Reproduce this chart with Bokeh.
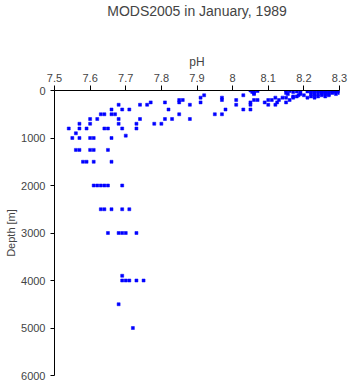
from bokeh.plotting import figure
from bokeh.models import Range1d, FixedTicker, CustomJSTickFormatter, ColumnDataSource, Title
from bokeh.embed import file_html
from bokeh.resources import INLINE

# depth [m] and pH of each observation
depth_m = (
    [0] * 9 + [10] * 6 + [20] * 7 + [30] * 6 + [50] * 8 + [75] * 8 + [100] * 7 + [125] * 5 +
    [150] * 8 + [200] * 10 + [250] * 8 + [300] * 8 + [400] * 7 + [500] * 7 + [600] * 7 +
    [700] * 6 + [800] * 7 + [900] + [950] + [1000] * 5 + [1250] * 5 + [1500] * 4 +
    [2000] * 6 + [2500] * 5 + [3000] * 5 + [3900] + [4000] * 5 + [4500] + [5000]
)
ph = [
    8.05, 8.15, 8.19, 8.22, 8.24, 8.26, 8.28, 8.29, 8.30,
    8.07, 8.16, 8.23, 8.25, 8.27, 8.29,
    8.06, 8.18, 8.21, 8.24, 8.26, 8.28, 8.30,
    8.055, 8.17, 8.22, 8.25, 8.27, 8.29,
    8.06, 8.15, 8.19, 8.23, 8.25, 8.26, 8.28, 8.30,
    8.06, 8.155, 8.19, 8.22, 8.24, 8.26, 8.27, 8.29,
    7.92, 8.03, 8.185, 8.20, 8.23, 8.25, 8.27,
    8.17, 8.18, 8.22, 8.24, 8.26,
    7.91, 7.97, 8.12, 8.14, 8.15, 8.17, 8.21, 8.23,
    7.85, 7.86, 7.97, 8.01, 8.06, 8.07, 8.10, 8.11, 8.13, 8.16,
    7.77, 7.81, 7.85, 7.91, 8.05, 8.09, 8.125, 8.15,
    7.68, 7.74, 7.76, 7.88, 8.01, 8.05, 8.10, 8.12,
    7.66, 7.69, 7.71, 7.82, 7.98, 8.03, 8.05,
    7.63, 7.64, 7.66, 7.67, 7.85, 7.95, 7.97,
    7.60, 7.62, 7.68, 7.74, 7.81, 7.83, 7.88,
    7.57, 7.60, 7.68, 7.73, 7.78, 7.80,
    7.54, 7.57, 7.59, 7.64, 7.65, 7.69, 7.73,
    7.56,
    7.70,
    7.55, 7.57, 7.60, 7.61, 7.66,
    7.56, 7.57, 7.60, 7.61, 7.65,
    7.58, 7.59, 7.61, 7.66,
    7.61, 7.62, 7.63, 7.64, 7.65, 7.69,
    7.63, 7.64, 7.66, 7.69, 7.71,
    7.65, 7.68, 7.69, 7.70, 7.73,
    7.69,
    7.69, 7.70, 7.71, 7.73, 7.75,
    7.68,
    7.72,
]

x_ticks = [7.5, 7.6, 7.7, 7.8, 7.9, 8.0, 8.1, 8.2, 8.3]
y_ticks = [0, 1000, 2000, 3000, 4000, 5000, 6000]
title_text = "MODS2005 in January, 1989"
x_label = "pH"
y_label = "Depth [m]"

FONT = "Liberation Sans"

p = figure(width=350, height=384, output_backend="svg", toolbar_location=None, title=None,
           x_axis_location="above", x_range=Range1d(7.5, 8.3), y_range=Range1d(6000, 0),
           min_border_left=54, min_border_right=11, min_border_top=90, min_border_bottom=9)

p.outline_line_color = None
p.grid.visible = False
p.background_fill_color = "white"
p.border_fill_color = "white"

src = ColumnDataSource(dict(x=ph, y=depth_m))
p.scatter("x", "y", source=src, marker="square", size=3, fill_color="#0000ff",
          line_color="#0000ff", line_width=0.5)

for ax in (p.xaxis[0], p.yaxis[0]):
    ax.axis_line_color = "black"
    ax.axis_line_width = 1
    ax.major_tick_line_color = "black"
    ax.major_tick_out = 5
    ax.major_tick_in = 0
    ax.minor_tick_line_color = None
    ax.major_label_text_font = FONT
    ax.major_label_text_font_size = "11px"
    ax.axis_label_text_font = FONT
    ax.axis_label_text_font_style = "normal"

xa = p.xaxis[0]
xa.ticker = FixedTicker(ticks=x_ticks)
xa.formatter = CustomJSTickFormatter(code="return String(Math.round(tick*10)/10);")
xa.axis_label = x_label
xa.axis_label_text_font_size = "12px"
xa.axis_label_standoff = 2
xa.major_label_standoff = 4

ya = p.yaxis[0]
ya.ticker = FixedTicker(ticks=y_ticks)
ya.axis_label = y_label
ya.axis_label_text_font_size = "11px"
ya.axis_label_standoff = 1
ya.major_label_standoff = 5
ya.major_tick_out = 4

# spacer panel between the axis and the title, then the title itself (outermost)
spacer = Title(text=" ", text_font_size="1px", standoff=30)
p.add_layout(spacer, "above")
main_title = Title(text=title_text, align="center", text_font=FONT, text_font_size="14px",
                   text_font_style="normal", standoff=0)
p.add_layout(main_title, "above")

open("out.html", "w").write(file_html(p, INLINE))
